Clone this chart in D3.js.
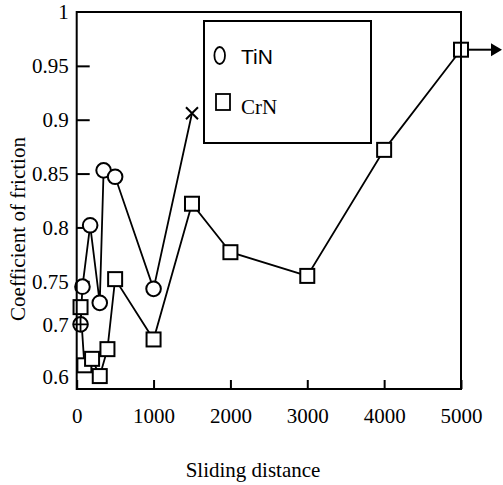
<!DOCTYPE html>
<html>
<head>
<meta charset="utf-8">
<script src="https://cdn.jsdelivr.net/npm/d3@7"></script>
<style>
  body { margin: 0; background: #fff; }
  svg text { font-family: "Liberation Serif", "Times New Roman", serif; font-size: 21px; fill: #000; }
</style>
</head>
<body>
<div id="drawarea"></div>
<script>
// data
let tinDist = [50, 75, 175, 300, 350, 500, 1000, 1500];
let tinCof  = [0.710, 0.745, 0.802, 0.730, 0.853, 0.847, 0.743, 0.906];
let crnDist = [50, 100, 200, 300, 400, 500, 1000, 1500, 2000, 3000, 4000, 5000];
let crnCof  = [0.726, 0.672, 0.678, 0.662, 0.687, 0.752, 0.696, 0.822, 0.777, 0.755, 0.872, 0.965];

let xTicks = [0, 1000, 2000, 3000, 4000, 5000];
let yTicks = [0.95, 0.9, 0.85, 0.8, 0.75];
// the printed labels do not sit on a regular grid at the bottom
let yLabelVals = [1, 0.95, 0.9, 0.85, 0.8, 0.75, 0.7094, 0.6614];
let yLabels = ["1", "0.95", "0.9", "0.85", "0.8", "0.75", "0.7", "0.6"];

let svg = d3.select("div#drawarea").append("svg")
    .attr("width", 503)
    .attr("height", 485);

let x = d3.scaleLinear().domain([0, 5000]).range([76.7, 461]);
let y = d3.scaleLinear().domain([0.65, 1]).range([389, 12]);

//x axis: inward ticks, labels below
let xAxis = svg.append("g")
    .attr("transform", "translate(0," + y(0.65) + ")")
    .call(d3.axisBottom(x).tickValues(xTicks).tickSize(-9).tickPadding(19).tickFormat(d3.format("d")));
xAxis.select(".domain").remove();
xAxis.selectAll("line").attr("stroke", "#000").attr("stroke-width", 2);
xAxis.selectAll("text").attr("font-family", null).attr("font-size", null);

//y axis: tick marks only
let yAxis = svg.append("g")
    .attr("transform", "translate(" + x(0) + ",0)")
    .call(d3.axisLeft(y).tickValues(yTicks).tickSize(-13).tickFormat(""));
yAxis.select(".domain").remove();
yAxis.selectAll("line").attr("stroke", "#000").attr("stroke-width", 2);

//y labels
let yLab = svg.append("g")
    .attr("transform", "translate(" + x(0) + ",0)")
    .call(d3.axisLeft(y).tickValues(yLabelVals).tickSize(0).tickPadding(8)
        .tickFormat((d, i) => yLabels[i]));
yLab.select(".domain").remove();
yLab.selectAll("text").attr("font-family", null).attr("font-size", null);

//axis titles
svg.append("text")
    .attr("transform", "translate(25,229) rotate(-90)")
    .attr("text-anchor", "middle")
    .text("Coefficient of friction");
svg.append("text")
    .attr("x", 253)
    .attr("y", 476.5)
    .attr("text-anchor", "middle")
    .text("Sliding distance");

let line = d3.line().x(d => x(d[0])).y(d => y(d[1]));
let tin = tinDist.map((d, i) => [d, tinCof[i]]);
let crn = crnDist.map((d, i) => [d, crnCof[i]]);

svg.append("path").datum(tin).attr("d", line)
    .attr("fill", "none").attr("stroke", "#000").attr("stroke-width", 1.8);
svg.append("path").datum(crn).attr("d", line)
    .attr("fill", "none").attr("stroke", "#000").attr("stroke-width", 1.8);

//arrow off the last CrN point
let last = crn[crn.length - 1];
svg.append("line")
    .attr("x1", x(last[0])).attr("y1", y(last[1]))
    .attr("x2", x(last[0]) + 31).attr("y2", y(last[1]))
    .attr("stroke", "#000").attr("stroke-width", 2);
svg.append("path")
    .attr("d", d3.line()([[x(last[0]) + 30, y(last[1]) - 6.5], [x(last[0]) + 41, y(last[1])], [x(last[0]) + 30, y(last[1]) + 6.5]]))
    .attr("fill", "#000");

//CrN squares
svg.selectAll("rect.crn").data(crn).enter().append("rect")
    .attr("class", "crn")
    .attr("x", d => x(d[0]) - 7)
    .attr("y", d => y(d[1]) - 7)
    .attr("width", 14)
    .attr("height", 14)
    .attr("fill", "#fff")
    .attr("stroke", "#000")
    .attr("stroke-width", 2);

//TiN circles (all but last, which is the failure cross)
let tinPts = tin.slice(0, -1);
svg.selectAll("circle.tin").data(tinPts).enter().append("circle")
    .attr("class", "tin")
    .attr("cx", d => x(d[0]))
    .attr("cy", d => y(d[1]))
    .attr("r", 7.3)
    .attr("fill", "#fff")
    .attr("stroke", "#000")
    .attr("stroke-width", 2);

//first TiN point has a cross inside
let p0 = tin[0];
svg.append("path")
    .attr("d", "M" + (x(p0[0]) - 7.3) + "," + y(p0[1]) + "H" + (x(p0[0]) + 7.3)
        + "M" + x(p0[0]) + "," + (y(p0[1]) - 7.3) + "V" + (y(p0[1]) + 7.3))
    .attr("stroke", "#000").attr("stroke-width", 1.8);

//failure mark
let pe = tin[tin.length - 1];
svg.append("path")
    .attr("d", "M" + (x(pe[0]) - 6) + "," + (y(pe[1]) - 6) + "L" + (x(pe[0]) + 6) + "," + (y(pe[1]) + 6)
        + "M" + (x(pe[0]) + 6) + "," + (y(pe[1]) - 6) + "L" + (x(pe[0]) - 6) + "," + (y(pe[1]) + 6))
    .attr("stroke", "#000").attr("stroke-width", 2);

//plot frame on top
svg.append("rect")
    .attr("x", x(0))
    .attr("y", y(1))
    .attr("width", x(5000) - x(0))
    .attr("height", y(0.65) - y(1))
    .attr("fill", "none")
    .attr("stroke", "#000")
    .attr("stroke-width", 2);

//legend
let legend = svg.append("g");
legend.append("rect")
    .attr("x", 204).attr("y", 21)
    .attr("width", 167).attr("height", 122)
    .attr("fill", "#fff").attr("stroke", "#000").attr("stroke-width", 2);
legend.append("ellipse")
    .attr("cx", 219.7).attr("cy", 55.5)
    .attr("rx", 5.3).attr("ry", 8.5)
    .attr("fill", "none").attr("stroke", "#000").attr("stroke-width", 1.8);
legend.append("text")
    .attr("x", 241).attr("y", 64)
    .style("font-family", "'Liberation Sans', Arial, sans-serif")
    .text("TiN");
legend.append("rect")
    .attr("x", 216).attr("y", 94)
    .attr("width", 14).attr("height", 16)
    .attr("fill", "none").attr("stroke", "#000").attr("stroke-width", 1.8);
legend.append("text")
    .attr("x", 241).attr("y", 114)
    .text("CrN");
</script>
</body>
</html>
